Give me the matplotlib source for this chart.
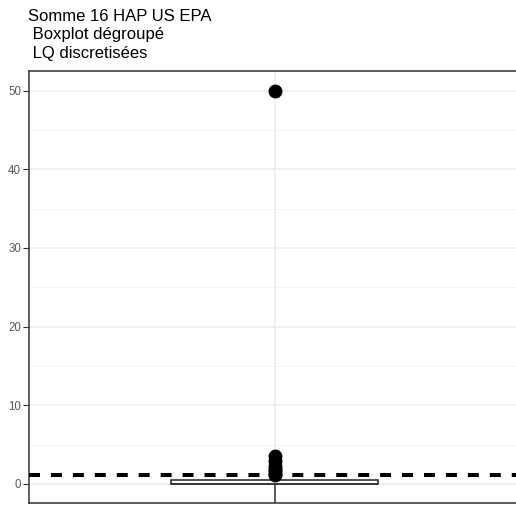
import matplotlib
matplotlib.use("Agg")
import matplotlib.pyplot as plt

# ---- data ----
title_lines = ["Somme 16 HAP US EPA", " Boxplot dégroupé", " LQ discretisées"]
q1 = 0.0
median = 0.0
q3 = 0.45
whisker_low = -3.0
whisker_high = 0.9
outliers = [50.0, 3.6, 2.9, 2.3, 1.9, 1.6, 1.3, 1.1]
threshold = 1.1
y_ticks = [0, 10, 20, 30, 40, 50]
y_minor = [5, 15, 25, 35, 45]
y_limits = (-2.4, 52.55)

plt.rcParams['font.family'] = ['Liberation Sans', 'DejaVu Sans']

W, H = 516, 505
fig = plt.figure(figsize=(W / 100, H / 100), dpi=100)
left, right = 28.7, 520.7
top, bottom = 70.7, 502.7
ax = fig.add_axes([left / W, 1 - bottom / H, (right - left) / W, (bottom - top) / H])

ax.set_xlim(0.4, 1.6)
ax.set_ylim(*y_limits)

# grid
for v in y_minor:
    ax.axhline(v, color='#F2F2F2', lw=0.6, zorder=0)
for v in y_ticks:
    ax.axhline(v, color='#EBEBEB', lw=1.1, zorder=0)
ax.axvline(1, color='#EBEBEB', lw=1.1, zorder=0)

stats = [dict(med=median, q1=q1, q3=q3, whislo=whisker_low, whishi=whisker_high,
              fliers=outliers, label='')]
ax.bxp(stats, positions=[1], widths=0.505, patch_artist=True, showcaps=False,
       boxprops=dict(facecolor='white', edgecolor='#333333', linewidth=1.2),
       medianprops=dict(color='#333333', linewidth=1.2),
       whiskerprops=dict(color='#333333', linewidth=1.1),
       flierprops=dict(marker='o', markerfacecolor='black', markeredgecolor='black',
                       markersize=9.0, linestyle='none'),
       zorder=3)

ln = ax.axhline(threshold, color='black', lw=2.9, zorder=4)
ln.set_dashes([7.9 / 2.9, 7.9 / 2.9])

for s in ax.spines.values():
    s.set_color('#333333')
    s.set_linewidth(1.1)

ax.set_yticks(y_ticks)
ax.set_yticklabels([str(t) for t in y_ticks])
ax.tick_params(axis='y', length=4.0, width=0.8, color='#333333', labelcolor='#5A5A5A',
               labelsize=8.3, pad=1.5)
ax.set_xticks([])

baselines = [20.7, 39.3, 58.3]
for t, b in zip(title_lines, baselines):
    fig.text(28.5 / W, 1 - b / H, t, fontsize=12, color='black', va='baseline', ha='left')

fig.savefig("out.png", dpi=100)
